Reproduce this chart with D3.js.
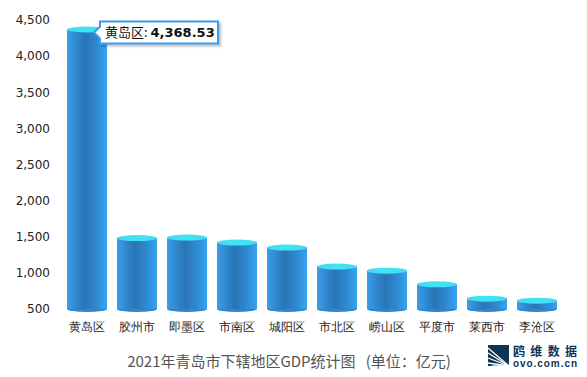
<!DOCTYPE html>
<html><head><meta charset="utf-8">
<script src="https://cdn.jsdelivr.net/npm/d3@7/dist/d3.min.js"></script>
<style>body{margin:0;background:#fff;}svg{display:block;font-family:"Microsoft YaHei","Noto Sans CJK SC",sans-serif;}text{white-space:pre;}</style>
</head><body><svg id="c" width="587" height="377"></svg>
<script>
const categories = ["黄岛区","胶州市","即墨区","市南区","城阳区","市北区","崂山区","平度市","莱西市","李沧区"];
const values = [4368.53,1481,1488,1420,1350,1087,1030,842,643,615];
const yTicks = [500,1000,1500,2000,2500,3000,3500,4000,4500];
const title = "2021年青岛市下辖地区GDP统计图   (单位：亿元)";

const svg = d3.select("#c");
const x = d3.scaleBand().domain(categories).range([62,562]).paddingInner(0.2).paddingOuter(0.1);
const y = d3.scaleLinear().domain([500,4500]).range([309,20]);

const defs = svg.append("defs");
const g = defs.append("linearGradient").attr("id","body").attr("x1","0").attr("x2","1").attr("y1","0").attr("y2","0");
[[0,"#3a9ee9"],[0.25,"#2f86cc"],[0.45,"#2a75b4"],[0.75,"#2f8ad2"],[1,"#37a4f2"]].forEach(([o,c])=>g.append("stop").attr("offset",o).attr("stop-color",c));
const gt = defs.append("linearGradient").attr("id","top").attr("x1","0").attr("x2","1");
[[0,"#47d8ee"],[0.5,"#3ee6f5"],[1,"#47d8ee"]].forEach(([o,c])=>gt.append("stop").attr("offset",o).attr("stop-color",c));
const f = defs.append("filter").attr("id","sh").attr("x","-20%").attr("y","-30%").attr("width","150%").attr("height","170%");
f.append("feDropShadow").attr("dx",2).attr("dy",2).attr("stdDeviation",1.2).attr("flood-color","#000").attr("flood-opacity",0.25);

// y axis
const ya = svg.append("g").attr("transform","translate(50,0)")
  .call(d3.axisLeft(y).tickValues(yTicks).tickSize(0).tickPadding(0).tickFormat(d3.format(",")));
ya.select(".domain").remove();
ya.selectAll("text").attr("font-size",12).attr("fill","#222").attr("font-family","Tahoma,'DejaVu Sans',sans-serif");

// x axis
const xa = svg.append("g").attr("transform","translate(0,320)")
  .call(d3.axisBottom(x).tickSize(0).tickPadding(2));
xa.select(".domain").remove();
xa.selectAll("text").attr("font-size",12).attr("fill","#222");

// cylinders
const ry = 3;
const bars = svg.append("g").selectAll("g").data(categories.map((c,i)=>({c,v:values[i]}))).join("g");
bars.append("ellipse").attr("cx",d=>x(d.c)+x.bandwidth()/2).attr("cy",y(500)).attr("rx",x.bandwidth()/2).attr("ry",ry).attr("fill","#2f86cc");
bars.append("rect").attr("x",d=>x(d.c)).attr("width",x.bandwidth()).attr("y",d=>y(d.v)).attr("height",d=>y(500)-y(d.v)).attr("fill","url(#body)");
bars.append("ellipse").attr("cx",d=>x(d.c)+x.bandwidth()/2).attr("cy",d=>y(d.v)).attr("rx",x.bandwidth()/2).attr("ry",ry).attr("fill","url(#top)");

// tooltip
const d0 = {c:categories[0],v:values[0]};
const tx = x(d0.c)+x.bandwidth()/2+7, ty = y(d0.v)+3;
const tip = svg.append("g").attr("transform",`translate(${tx},${ty})`);
const bw=118, bh=22;
tip.append("path").attr("d",`M0,0 L6,-6 L6,-${bh/2} L${6+bw},-${bh/2} L${6+bw},${bh/2} L6,${bh/2} L6,6 Z`)
  .attr("fill","#fff").attr("stroke","#3d9be8").attr("stroke-width",2).attr("filter","url(#sh)");
const tt = tip.append("text").attr("x",11).attr("y",5).attr("font-size",13).attr("fill","#111");
tt.append("tspan").text(d0.c+": ");
tt.append("tspan").attr("font-weight","bold").attr("font-family","Tahoma,'DejaVu Sans',sans-serif").text(d3.format(",.2f")(d0.v));

// title
svg.append("text").attr("x",289).attr("y",367).attr("text-anchor","middle").attr("font-size",15).attr("fill","#555").text(title);

// logo
const lg = svg.append("g").attr("transform","translate(488,345)");
lg.append("rect").attr("width",21).attr("height",21).attr("fill","#0f3556");
[[0,3],[0,8],[0,13],[0,18],[4,21],[10,21]].forEach(([a,b])=>lg.append("line").attr("x1",a).attr("y1",b).attr("x2",21).attr("y2",21).attr("stroke","#fff").attr("stroke-width",1.3));
lg.append("text").attr("x",25).attr("y",11).attr("font-size",12).attr("font-weight","bold").attr("fill","#0f3556").attr("textLength",64).text("鸥维数据");
lg.append("text").attr("x",25).attr("y",22).attr("font-size",10).attr("font-weight","bold").attr("fill","#0f3556").attr("textLength",64).attr("font-family","Arial,'Liberation Sans',sans-serif").text("ovo.com.cn");
</script></body></html>
